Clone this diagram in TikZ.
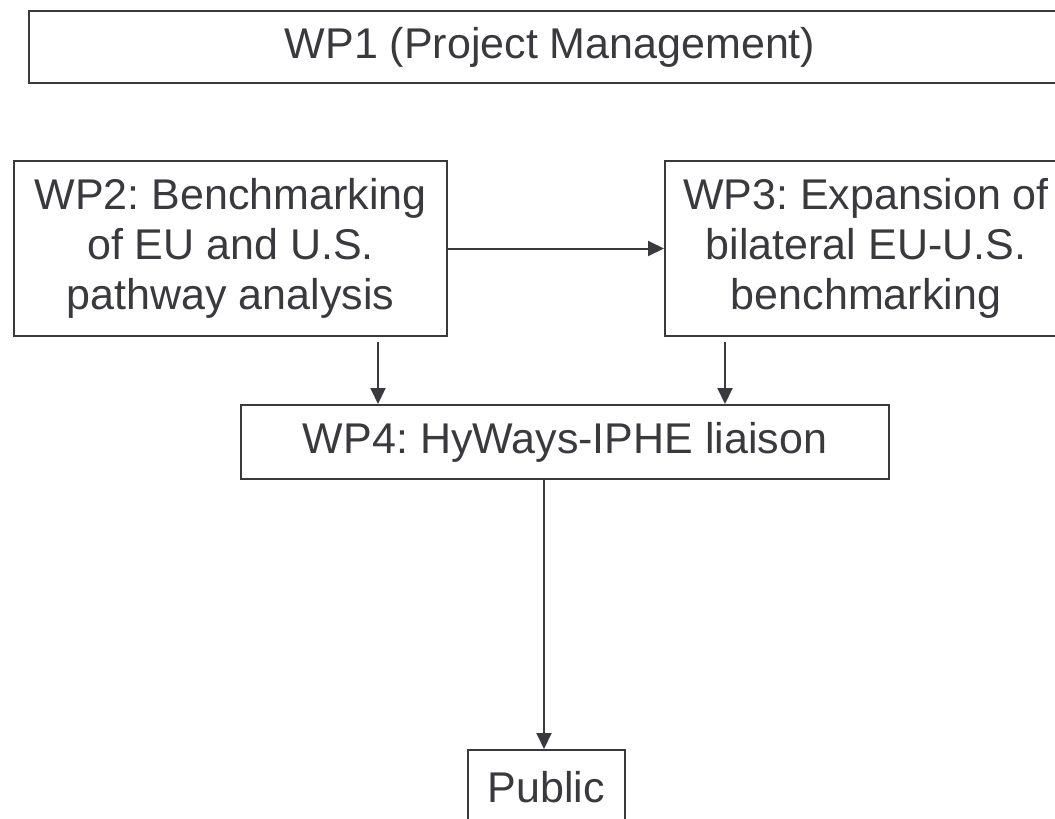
\documentclass[tikz,border=0pt]{standalone}
\usepackage{fontspec}
\setmainfont{Liberation Sans}
\usetikzlibrary{arrows.meta}
\definecolor{ink}{RGB}{58,58,62}
\frenchspacing
\begin{document}
\begin{tikzpicture}[x=1pt,y=-1pt,
  box/.style={draw=ink,line width=2pt,inner sep=0pt,align=center,text=ink,
              font=\fontsize{43}{50}\selectfont},
  arr/.style={draw=ink,line width=2pt,-{Triangle[length=16pt,width=15pt]}}]
\useasboundingbox (0,0) rectangle (1055,819);
\clip (0,0) rectangle (1055,819);
\node[box,minimum width=1042pt,minimum height=72pt] (wp1) at (550,47) {WP1 (Project Management)};
\node[box,minimum width=433pt,minimum height=175pt] (wp2) at (230.5,248.5) {WP2: Benchmarking\\of EU and U.S.\\pathway analysis};
\node[box,minimum width=402pt,minimum height=175pt] (wp3) at (866,248.5) {WP3: Expansion of\\bilateral EU-U.S.\\benchmarking};
\node[box,minimum width=648pt,minimum height=74pt] (wp4) at (565,442) {WP4: HyWays-IPHE liaison};
\node[box,minimum width=157pt,minimum height=75pt] (pub) at (546.5,787.5) {Public};
\coordinate (a1) at (378,342);
\coordinate (a2) at (725,342);
\coordinate (a3) at (544,442);
\draw[arr] (wp2.east) -- (wp3.west);
\draw[arr] (a1) -- (a1 |- wp4.north);
\draw[arr] (a2) -- (a2 |- wp4.north);
\draw[arr] (a3 |- wp4.south) -- (a3 |- pub.north);
\end{tikzpicture}
\end{document}
